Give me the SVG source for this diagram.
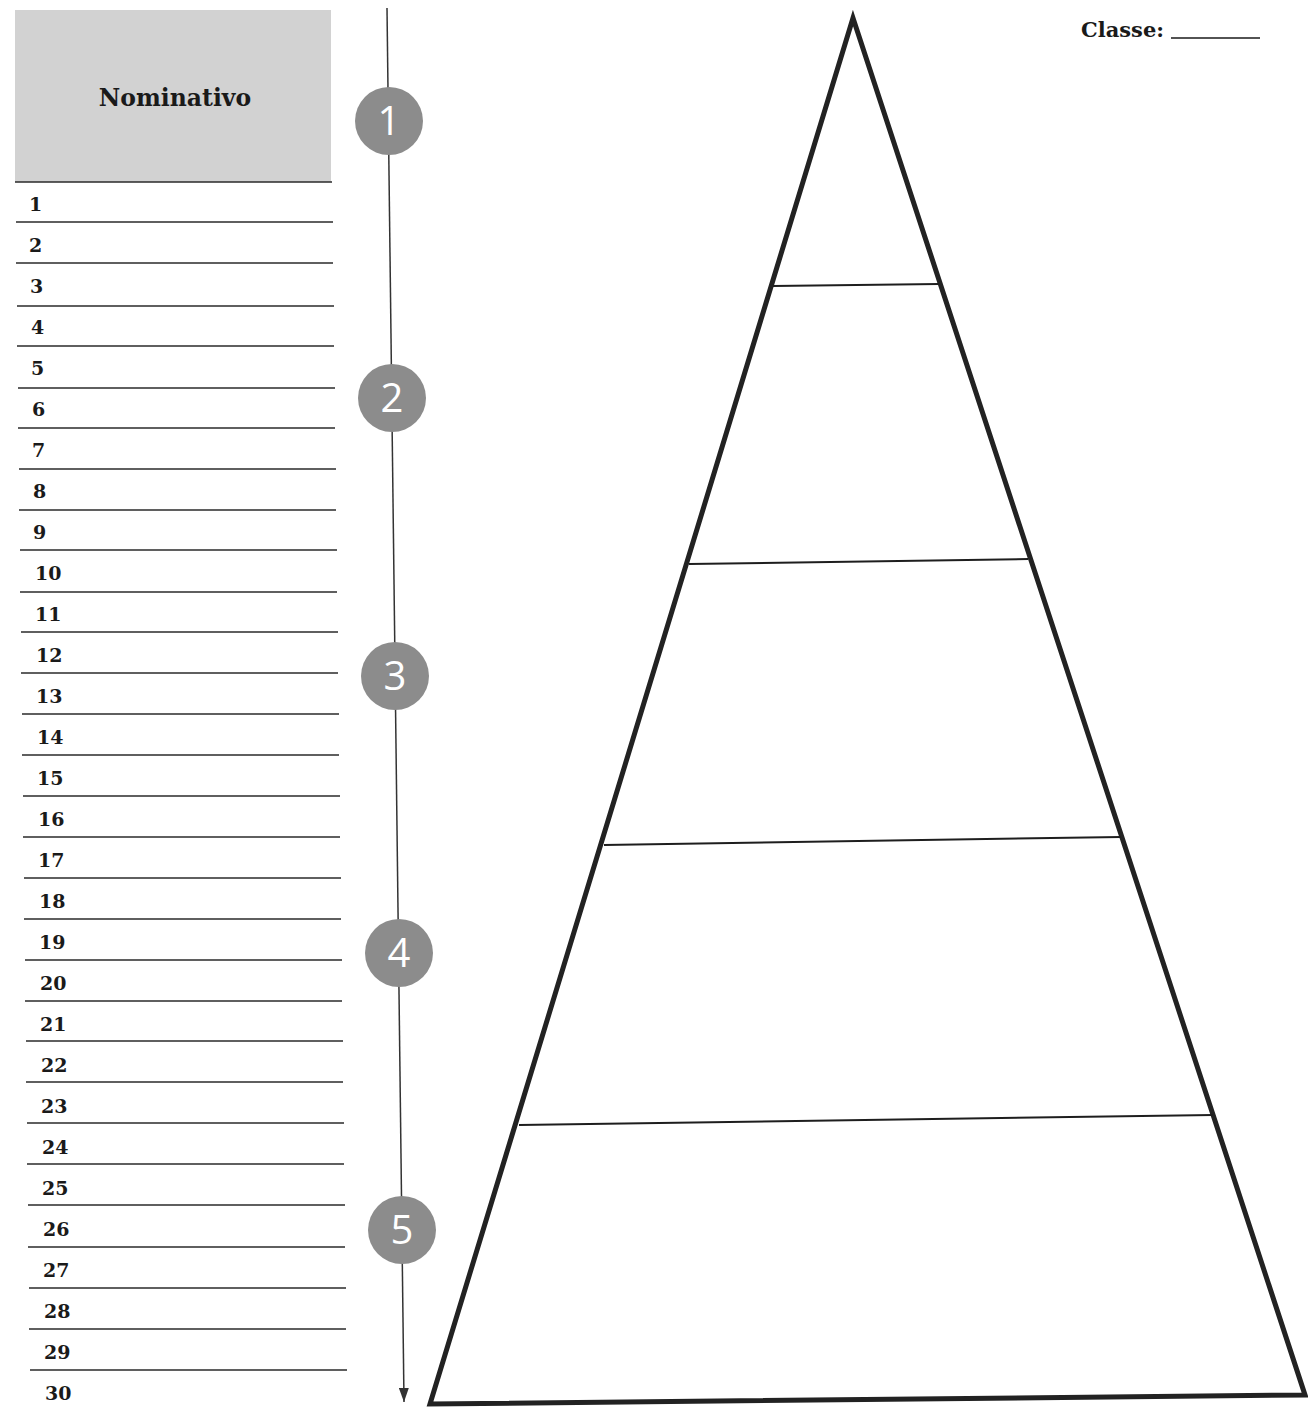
<svg xmlns="http://www.w3.org/2000/svg" width="1308" height="1409" viewBox="0 0 1308 1409">
<style>
.num{font-family:"DejaVu Serif","Liberation Serif",serif;font-weight:bold;font-size:19px;fill:#1a1a1a}
.row{stroke:#2a2a2a;stroke-width:1.4}
.step{fill:#8c8c8c}
.stepnum{font-family:"Open Sans","Liberation Sans",sans-serif;font-size:40px;fill:#ffffff;text-anchor:middle}
.tier{stroke:#1e1e1e;stroke-width:2}
</style>
<defs>
<marker id="arr" viewBox="0 0 14 10" refX="14" refY="5" markerWidth="14" markerHeight="10" markerUnits="userSpaceOnUse" orient="auto">
<path d="M0,0 L14,5 L0,10 Z" fill="#333"/>
</marker>
</defs>
<rect width="1308" height="1409" fill="#ffffff"/>
<g id="header">
<rect x="15" y="10" width="316" height="172" fill="#d2d2d2"/>
<text x="175" y="106" text-anchor="middle" font-family="DejaVu Serif,Liberation Serif,serif" font-weight="bold" font-size="23.5" fill="#1a1a1a">Nominativo</text>
</g>
<g id="classe">
<text x="1081" y="37" font-family="DejaVu Serif,Liberation Serif,serif" font-weight="bold" font-size="21" fill="#1a1a1a">Classe:</text>
<line x1="1171" y1="38" x2="1260" y2="38" stroke="#1a1a1a" stroke-width="1.5"/>
</g>
<g id="rows">
<line class="row" x1="15" y1="182" x2="332" y2="182"/>
<line class="row" x1="16" y1="222" x2="333" y2="222"/>
<line class="row" x1="16" y1="263" x2="333" y2="263"/>
<line class="row" x1="17" y1="306" x2="334" y2="306"/>
<line class="row" x1="17" y1="346" x2="334" y2="346"/>
<line class="row" x1="18" y1="388" x2="335" y2="388"/>
<line class="row" x1="18" y1="428" x2="335" y2="428"/>
<line class="row" x1="19" y1="469" x2="336" y2="469"/>
<line class="row" x1="19" y1="510" x2="336" y2="510"/>
<line class="row" x1="20" y1="550" x2="337" y2="550"/>
<line class="row" x1="20" y1="592" x2="337" y2="592"/>
<line class="row" x1="21" y1="632" x2="338" y2="632"/>
<line class="row" x1="21" y1="673" x2="338" y2="673"/>
<line class="row" x1="22" y1="714" x2="339" y2="714"/>
<line class="row" x1="22" y1="755" x2="339" y2="755"/>
<line class="row" x1="23" y1="796" x2="340" y2="796"/>
<line class="row" x1="23" y1="837" x2="340" y2="837"/>
<line class="row" x1="24" y1="878" x2="341" y2="878"/>
<line class="row" x1="24" y1="919" x2="341" y2="919"/>
<line class="row" x1="25" y1="960" x2="342" y2="960"/>
<line class="row" x1="25" y1="1001" x2="342" y2="1001"/>
<line class="row" x1="26" y1="1041" x2="343" y2="1041"/>
<line class="row" x1="26" y1="1082" x2="343" y2="1082"/>
<line class="row" x1="27" y1="1123" x2="344" y2="1123"/>
<line class="row" x1="27" y1="1164" x2="344" y2="1164"/>
<line class="row" x1="28" y1="1205" x2="345" y2="1205"/>
<line class="row" x1="28" y1="1247" x2="345" y2="1247"/>
<line class="row" x1="29" y1="1288" x2="346" y2="1288"/>
<line class="row" x1="29" y1="1329" x2="346" y2="1329"/>
<line class="row" x1="30" y1="1370" x2="347" y2="1370"/>
</g>
<g id="numbers">
<text class="num" x="29" y="211">1</text>
<text class="num" x="29" y="252">2</text>
<text class="num" x="30" y="293">3</text>
<text class="num" x="31" y="334">4</text>
<text class="num" x="31" y="375">5</text>
<text class="num" x="32" y="416">6</text>
<text class="num" x="32" y="457">7</text>
<text class="num" x="33" y="498">8</text>
<text class="num" x="33" y="539">9</text>
<text class="num" x="35" y="580">10</text>
<text class="num" x="35" y="621">11</text>
<text class="num" x="36" y="662">12</text>
<text class="num" x="36" y="703">13</text>
<text class="num" x="37" y="744">14</text>
<text class="num" x="37" y="785">15</text>
<text class="num" x="38" y="826">16</text>
<text class="num" x="38" y="867">17</text>
<text class="num" x="39" y="908">18</text>
<text class="num" x="39" y="949">19</text>
<text class="num" x="40" y="990">20</text>
<text class="num" x="40" y="1031">21</text>
<text class="num" x="41" y="1072">22</text>
<text class="num" x="41" y="1113">23</text>
<text class="num" x="42" y="1154">24</text>
<text class="num" x="42" y="1195">25</text>
<text class="num" x="43" y="1236">26</text>
<text class="num" x="43" y="1277">27</text>
<text class="num" x="44" y="1318">28</text>
<text class="num" x="44" y="1359">29</text>
<text class="num" x="45" y="1400">30</text>
</g>
<g id="connectors">
<line x1="387" y1="8" x2="404" y2="1402" stroke="#333" stroke-width="1.5" marker-end="url(#arr)"/>
</g>
<g id="step1"><circle class="step" cx="389" cy="121" r="34"/><text class="stepnum" x="389" y="135">1</text></g>
<g id="step2"><circle class="step" cx="392" cy="398" r="34"/><text class="stepnum" x="392" y="412">2</text></g>
<g id="step3"><circle class="step" cx="395" cy="676" r="34"/><text class="stepnum" x="395" y="690">3</text></g>
<g id="step4"><circle class="step" cx="399" cy="953" r="34"/><text class="stepnum" x="399" y="967">4</text></g>
<g id="step5"><circle class="step" cx="402" cy="1230" r="34"/><text class="stepnum" x="402" y="1244">5</text></g>
<g id="pyramid">
<polygon points="853,18 430,1404 1305,1395" fill="none" stroke="#222" stroke-width="5" stroke-linejoin="miter"/>
<line class="tier" x1="773" y1="286" x2="939" y2="284"/>
<line class="tier" x1="689" y1="564" x2="1028" y2="559"/>
<line class="tier" x1="604" y1="845" x2="1121" y2="837"/>
<line class="tier" x1="519" y1="1125" x2="1213" y2="1115"/>
</g>
</svg>
